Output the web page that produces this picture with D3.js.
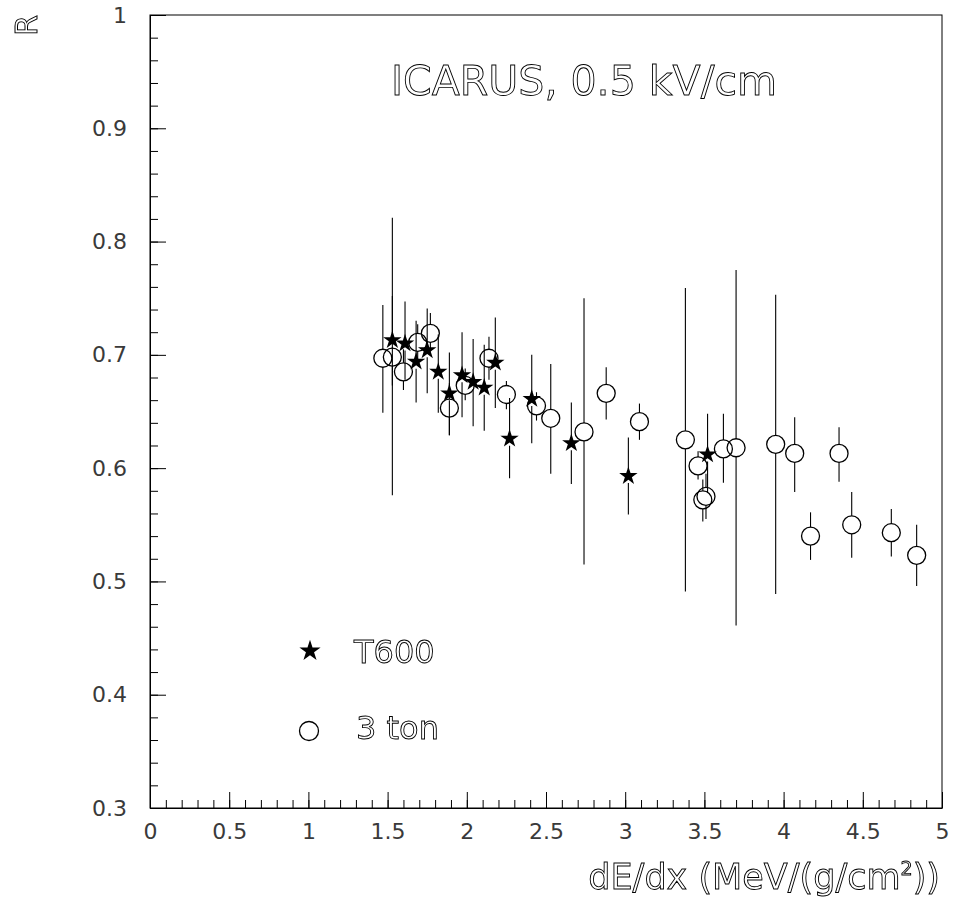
<!DOCTYPE html>
<html>
<head>
<meta charset="utf-8">
<script src="https://cdn.jsdelivr.net/npm/d3@7"></script>
<style>
  html, body { margin: 0; padding: 0; background: #fff; }
  svg { display: block; }
  text { font-family: "DejaVu Sans", sans-serif; }
</style>
</head>
<body>
<svg id="chart" width="953" height="903"></svg>
<script>
// ---- data ----
const titleText = "ICARUS, 0.5 kV/cm";
const xTicksMajor = [0, 0.5, 1, 1.5, 2, 2.5, 3, 3.5, 4, 4.5, 5];
const yTicksMajor = [0.3, 0.4, 0.5, 0.6, 0.7, 0.8, 0.9, 1];

// T600 (stars)
const t600X  = [1.53, 1.61, 1.68, 1.75, 1.82, 1.89, 1.97, 2.04, 2.11, 2.18, 2.27, 2.41, 2.66, 3.02, 3.52];
const t600R  = [0.713, 0.710, 0.694, 0.704, 0.685, 0.666, 0.682, 0.676, 0.671, 0.693, 0.626, 0.661, 0.622, 0.593, 0.612];
const t600Lo = [0.673, 0.678, 0.658, 0.666, 0.649, 0.629, 0.645, 0.637, 0.633, 0.653, 0.591, 0.622, 0.586, 0.559, 0.578];
const t600Hi = [0.752, 0.747, 0.730, 0.741, 0.718, 0.702, 0.720, 0.714, 0.709, 0.733, 0.662, 0.700, 0.658, 0.627, 0.648];

// 3 ton (open circles)
const tonX  = [1.47, 1.53, 1.60, 1.69, 1.77, 1.89, 1.99, 2.14, 2.25, 2.44, 2.53, 2.74, 2.88, 3.09, 3.38, 3.46, 3.49, 3.51, 3.62, 3.70, 3.95, 4.07, 4.17, 4.35, 4.43, 4.68, 4.84];
const tonR  = [0.697, 0.698, 0.685, 0.711, 0.719, 0.653, 0.673, 0.697, 0.665, 0.655, 0.644, 0.632, 0.666, 0.641, 0.625, 0.602, 0.572, 0.575, 0.617, 0.618, 0.621, 0.613, 0.540, 0.613, 0.550, 0.543, 0.523];
const tonLo = [0.649, 0.576, 0.669, 0.695, 0.703, 0.629, 0.660, 0.678, 0.652, 0.642, 0.595, 0.515, 0.643, 0.625, 0.491, 0.590, 0.553, 0.555, 0.587, 0.461, 0.489, 0.579, 0.519, 0.588, 0.521, 0.522, 0.496];
const tonHi = [0.744, 0.821, 0.705, 0.727, 0.737, 0.675, 0.688, 0.716, 0.677, 0.667, 0.692, 0.750, 0.689, 0.657, 0.759, 0.615, 0.590, 0.595, 0.648, 0.775, 0.753, 0.645, 0.561, 0.636, 0.579, 0.564, 0.550];

const legendLabels = ["T600", "3 ton"];

// ---- drawing ----
const svg = d3.select("#chart");
const x = d3.scaleLinear().domain([0, 5]).range([150, 942]);
const y = d3.scaleLinear().domain([0.3, 1]).range([808, 15]);

// frame
svg.append("rect")
  .attr("x", x(0)).attr("y", y(1))
  .attr("width", x(5) - x(0)).attr("height", y(0.3) - y(1))
  .attr("fill", "none").attr("stroke", "#000").attr("stroke-width", 1);

// minor ticks
const xMinor = d3.range(0, 5.0001, 0.1).map(v => +v.toFixed(2));
const yMinor = d3.range(0.3, 1.0001, 0.02).map(v => +v.toFixed(3));

svg.append("g").attr("transform", `translate(0,${y(0.3)})`)
  .call(d3.axisBottom(x).tickValues(xMinor).tickSize(-8).tickSizeOuter(0).tickFormat(""))
  .call(g => g.select(".domain").remove());
svg.append("g").attr("transform", `translate(${x(0)},0)`)
  .call(d3.axisLeft(y).tickValues(yMinor).tickSize(-8).tickSizeOuter(0).tickFormat(""))
  .call(g => g.select(".domain").remove());

// major ticks + labels
const gx = svg.append("g").attr("transform", `translate(0,${y(0.3)})`)
  .call(d3.axisBottom(x).tickValues(xTicksMajor).tickSize(-16).tickSizeOuter(0).tickPadding(15).tickFormat(d3.format("~g")));
const gy = svg.append("g").attr("transform", `translate(${x(0)},0)`)
  .call(d3.axisLeft(y).tickValues(yTicksMajor).tickSize(-16).tickSizeOuter(0).tickPadding(23).tickFormat(d3.format("~g")));
[gx, gy].forEach(g => {
  g.select(".domain").attr("stroke", "#000");
  g.selectAll("text").attr("font-size", 22).attr("fill", "#3a3a3a")
    .attr("font-family", "DejaVu Sans, sans-serif");
});

// error bars helper (gap around marker)
function errorBars(xs, vs, los, his, gap) {
  const g = svg.append("g").attr("stroke", "#000").attr("stroke-width", 1.1);
  xs.forEach((xv, i) => {
    const cx = x(xv), cy = y(vs[i]);
    const top = y(his[i]), bot = y(los[i]);
    if (cy - gap > top) g.append("line").attr("x1", cx).attr("x2", cx).attr("y1", top).attr("y2", cy - gap);
    if (bot > cy + gap) g.append("line").attr("x1", cx).attr("x2", cx).attr("y1", cy + gap).attr("y2", bot);
  });
}

// 3 ton
errorBars(tonX, tonR, tonLo, tonHi, 9);
svg.append("g").selectAll("circle").data(tonX).join("circle")
  .attr("cx", d => x(d)).attr("cy", (d, i) => y(tonR[i])).attr("r", 9)
  .attr("fill", "none").attr("stroke", "#000").attr("stroke-width", 1.3);

// T600
errorBars(t600X, t600R, t600Lo, t600Hi, 7);
const star = d3.symbol().type(d3.symbolStar).size(105);
svg.append("g").selectAll("path").data(t600X).join("path")
  .attr("d", star)
  .attr("transform", (d, i) => `translate(${x(d)},${y(t600R[i])})`)
  .attr("fill", "#000");

// legend
svg.append("path").attr("d", d3.symbol().type(d3.symbolStar).size(140))
  .attr("transform", "translate(310,651)").attr("fill", "#000");
svg.append("circle").attr("cx", 309).attr("cy", 731).attr("r", 9.5)
  .attr("fill", "none").attr("stroke", "#000").attr("stroke-width", 1.3);

// hollow (outlined) text as in the reference; group opacity avoids colour fringes
const tg = svg.append("g").attr("opacity", 0.999);
const hollow = sel => sel.attr("fill", "#fff").attr("stroke", "#000").attr("stroke-width", 0.9);
tg.append("text").attr("x", 354).attr("y", 663).attr("font-size", 32).text(legendLabels[0]).call(hollow);
tg.append("text").attr("x", 356).attr("y", 739).attr("font-size", 32).text(legendLabels[1]).call(hollow);

// title
tg.append("text").attr("x", 391).attr("y", 95).attr("font-size", 41)
  .attr("textLength", 386).attr("lengthAdjust", "spacingAndGlyphs")
  .text(titleText).call(hollow);

// x axis title
const xt = tg.append("text").attr("x", 940).attr("y", 889).attr("font-size", 35)
  .attr("text-anchor", "end").call(hollow);
xt.append("tspan").text("dE/dx (MeV/(g/cm");
xt.append("tspan").attr("dy", -14).attr("font-size", 19).text("2");
xt.append("tspan").attr("dy", 14).text("))");

// y axis title
tg.append("text").attr("transform", "translate(37,15) rotate(-90)")
  .attr("text-anchor", "end").attr("font-size", 30).text("R").call(hollow);
</script>
</body>
</html>
